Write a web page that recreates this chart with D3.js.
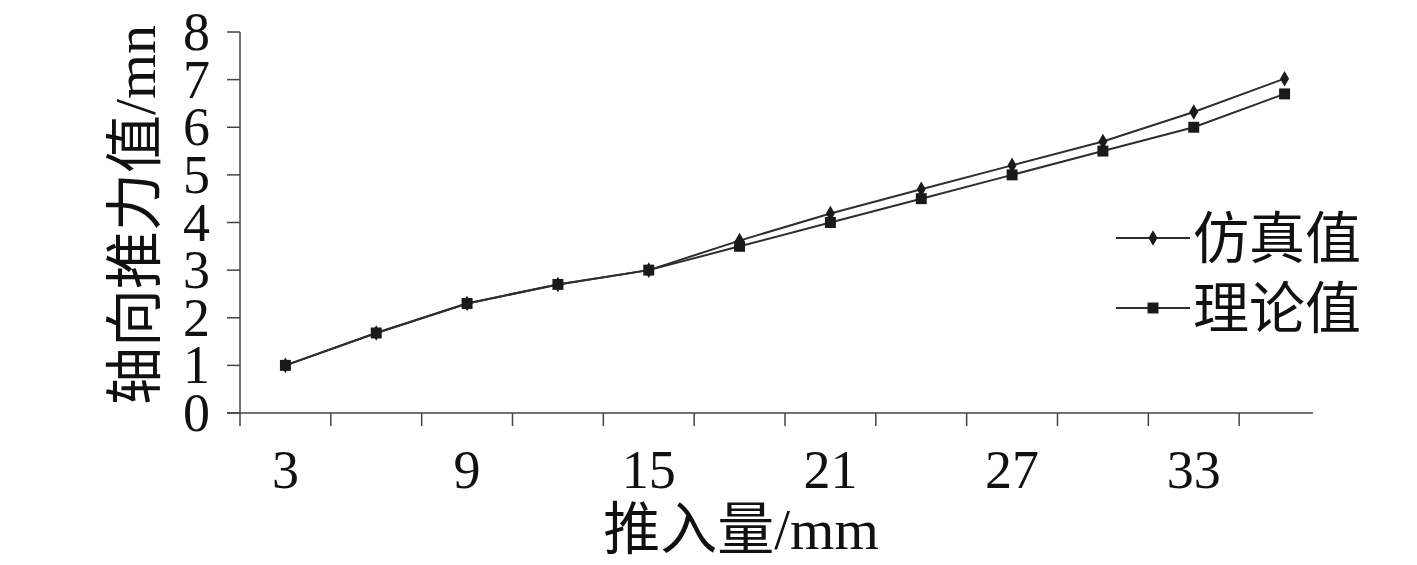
<!DOCTYPE html>
<html>
<head>
<meta charset="utf-8">
<script src="https://cdn.jsdelivr.net/npm/d3@7"></script>
<style>
  body { margin: 0; background: #fff; }
  svg text { font-family: "Liberation Serif", "Noto Sans CJK SC", serif; fill: #111; }
</style>
</head>
<body>
<svg id="chart" width="1417" height="565"></svg>
<script>
const categories = [3, 6, 9, 12, 15, 18, 21, 24, 27, 30, 33, 36];
const tickLabels = [3, 9, 15, 21, 27, 33];
const yTicks = [0, 1, 2, 3, 4, 5, 6, 7, 8];
const simValues = [1.0, 1.68, 2.3, 2.7, 3.0, 3.62, 4.19, 4.7, 5.2, 5.7, 6.32, 7.02];
const theoryValues = [1.0, 1.68, 2.3, 2.7, 3.0, 3.5, 4.0, 4.5, 5.0, 5.5, 6.0, 6.7];
const seriesNames = ["仿真值", "理论值"];
const xTitle = "推入量/mm";
const yTitle = "轴向推力值/mn";

(function () {
const svg = d3.select("#chart");
const pLeft = 240, pRight = 1330, pTop = 32, pBottom = 413;
const axisEnd = 1313;
const lineColor = "#2e2e2e";

const x = d3.scaleBand().domain(categories).range([pLeft, pRight]);
const y = d3.scaleLinear().domain([0, 8]).range([pBottom, pTop]);

// Y axis
const ya = svg.append("g");
ya.append("line").attr("x1", pLeft).attr("x2", pLeft).attr("y1", y(8)).attr("y2", y(0))
  .attr("stroke", "#444").attr("stroke-width", 1.5);
ya.selectAll("line.t").data(yTicks).enter().append("line").attr("class", "t")
  .attr("x1", pLeft - 13).attr("x2", pLeft).attr("y1", d => y(d)).attr("y2", d => y(d))
  .attr("stroke", "#444").attr("stroke-width", 1.5);
ya.selectAll("text").data(yTicks).enter().append("text")
  .attr("x", 210).attr("y", d => y(d) + 18)
  .attr("text-anchor", "end").attr("font-size", 54).text(d => d);

// X axis
const xa = svg.append("g");
xa.append("line").attr("x1", pLeft - 13).attr("x2", axisEnd).attr("y1", pBottom).attr("y2", pBottom)
  .attr("stroke", "#444").attr("stroke-width", 1.5);
xa.selectAll("line.t").data(categories).enter().append("line").attr("class", "t")
  .attr("x1", d => x(d)).attr("x2", d => x(d)).attr("y1", pBottom).attr("y2", pBottom + 13)
  .attr("stroke", "#444").attr("stroke-width", 1.5);
xa.selectAll("text").data(tickLabels).enter().append("text")
  .attr("x", d => x(d) + x.bandwidth() / 2).attr("y", 488)
  .attr("text-anchor", "middle").attr("font-size", 54).text(d => d);

// Titles
svg.append("text").attr("x", 741).attr("y", 549).attr("text-anchor", "middle")
  .attr("font-size", 57).text(xTitle);
svg.append("text").attr("transform", "translate(155,215) rotate(-90)")
  .attr("text-anchor", "middle").attr("font-size", 58).text(yTitle);

const cx = d => x(d) + x.bandwidth() / 2;
const line = d3.line().x(d => cx(d[0])).y(d => y(d[1]));

function drawSeries(vals, shape, size) {
  const data = categories.map((c, i) => [c, vals[i]]);
  svg.append("path").datum(data).attr("d", line).attr("fill", "none")
    .attr("stroke", lineColor).attr("stroke-width", 2);
  svg.selectAll(null).data(data).enter().append("path")
    .attr("d", d3.symbol().type(shape).size(size))
    .attr("transform", d => `translate(${cx(d[0])},${y(d[1])})`)
    .attr("fill", "#1a1a1a");
}
drawSeries(simValues, d3.symbolDiamond, 70);
drawSeries(theoryValues, d3.symbolSquare, 120);

// Legend
const legend = svg.append("g");
const legY = [238, 308];
const shapes = [[d3.symbolDiamond, 70], [d3.symbolSquare, 120]];
seriesNames.forEach((name, i) => {
  legend.append("line").attr("x1", 1116).attr("x2", 1190).attr("y1", legY[i]).attr("y2", legY[i])
    .attr("stroke", lineColor).attr("stroke-width", 2);
  legend.append("path").attr("d", d3.symbol().type(shapes[i][0]).size(shapes[i][1]))
    .attr("transform", `translate(1153,${legY[i]})`).attr("fill", "#1a1a1a");
  legend.append("text").attr("x", 1193).attr("y", legY[i] + 20).attr("font-size", 56).text(name);
});
})();
</script>
</body>
</html>
